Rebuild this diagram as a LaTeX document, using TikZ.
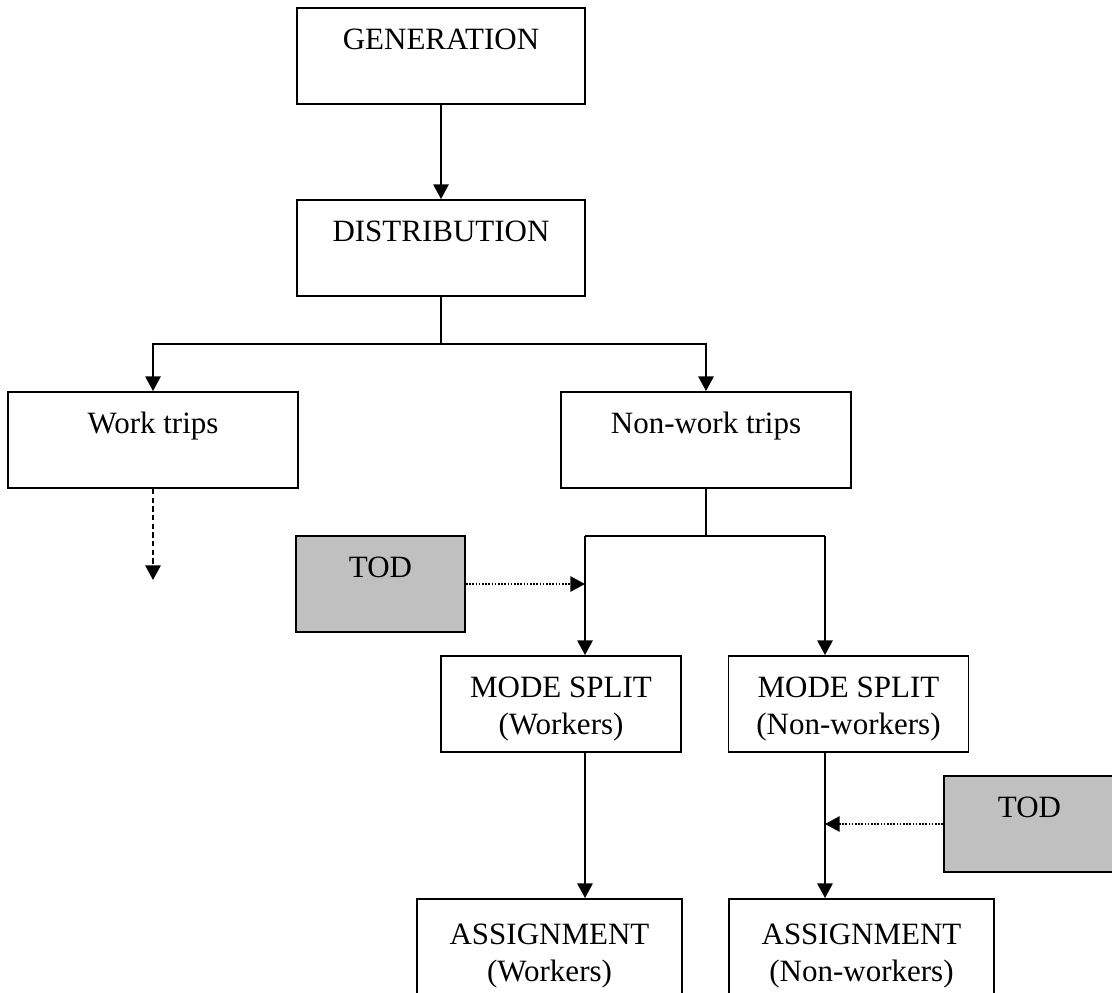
\documentclass[tikz,border=0pt]{standalone}
\usepackage{fontspec}
\setmainfont{Liberation Serif}
\usetikzlibrary{arrows.meta}
\definecolor{todgray}{RGB}{192,192,192}
\newcommand{\twoline}[2]{\begin{tabular}[t]{@{}c@{}}#1\\#2\end{tabular}}

\begin{document}
\begin{tikzpicture}[x=0.75pt,y=-0.75pt,
  box/.style={draw,line width=1.4pt,fill=white,inner sep=0pt,minimum height=0pt,
    text height=30.75pt,text depth=41.25pt,font=\fontsize{23.25pt}{27.75pt}\selectfont},
  todbox/.style={box,fill=todgray},
  tallbox/.style={box,text height=33.75pt,text depth=44.25pt},
  link/.style={line width=1.4pt},
  flow/.style={link,-{Triangle[length=11pt,width=11.5pt]}},
  later/.style={dash pattern=on 4pt off 2.5pt},
  timing/.style={flow,dash pattern=on 1.2pt off 1.2pt}]
\useasboundingbox (0,0) rectangle (1112,992);

% Boxes, top to bottom.
\node[box,minimum width=216pt] (gen) at (441,56) {GENERATION};
\node[box,minimum width=216pt] (dist) at (441,248) {DISTRIBUTION};
\node[box,minimum width=217.5pt] (work) at (153,440) {Work trips};
\node[box,minimum width=217.5pt] (nonwork) at (706,440) {Non-work trips};
\node[todbox,minimum width=126.75pt] (todl) at (380.5,584) {TOD};
\node[box,minimum width=180pt] (msw) at (561,704) {\twoline{MODE SPLIT}{(Workers)}};
\node[box,minimum width=180pt] (msnw) at (848.5,704) {\twoline{MODE SPLIT}{(Non-workers)}};
\node[todbox,minimum width=128.25pt] (todr) at (1029.5,824) {TOD};
\node[tallbox,minimum width=198.75pt] (asgw) at (549.5,951) {\twoline{ASSIGNMENT}{(Workers)}};
\node[tallbox,minimum width=198.75pt] (asgnw) at (861.5,951) {\twoline{ASSIGNMENT}{(Non-workers)}};

% Junctions of the tree.
\coordinate (split) at (441,344);
\coordinate (fork) at (706,536);
\coordinate (forkl) at (585,536);
\coordinate (forkr) at (825,536);
\coordinate (workend) at (153,580);

\draw[flow] (gen) -- (dist);
\draw[link] (dist.south) -- (split);
\draw[flow] (split) -| (work.north);
\draw[flow] (split) -| (nonwork.north);
\draw[flow,later] (work.south) -- (workend);
\draw[link] (nonwork.south) -- (fork);
\draw[link] (forkl) -- (forkr);
\draw[flow] (forkl) -- (forkl |- msw.north);
\draw[flow] (forkr) -- (forkr |- msnw.north);
\draw[timing] (todl.east) -- (forkl |- todl.east);
\draw[flow] (forkl |- msw.south) -- (forkl |- asgw.north);
\draw[flow] (forkr |- msnw.south) -- (forkr |- asgnw.north);
\draw[timing] (todr.west) -- (forkr |- todr.west);

\end{tikzpicture}
\end{document}
